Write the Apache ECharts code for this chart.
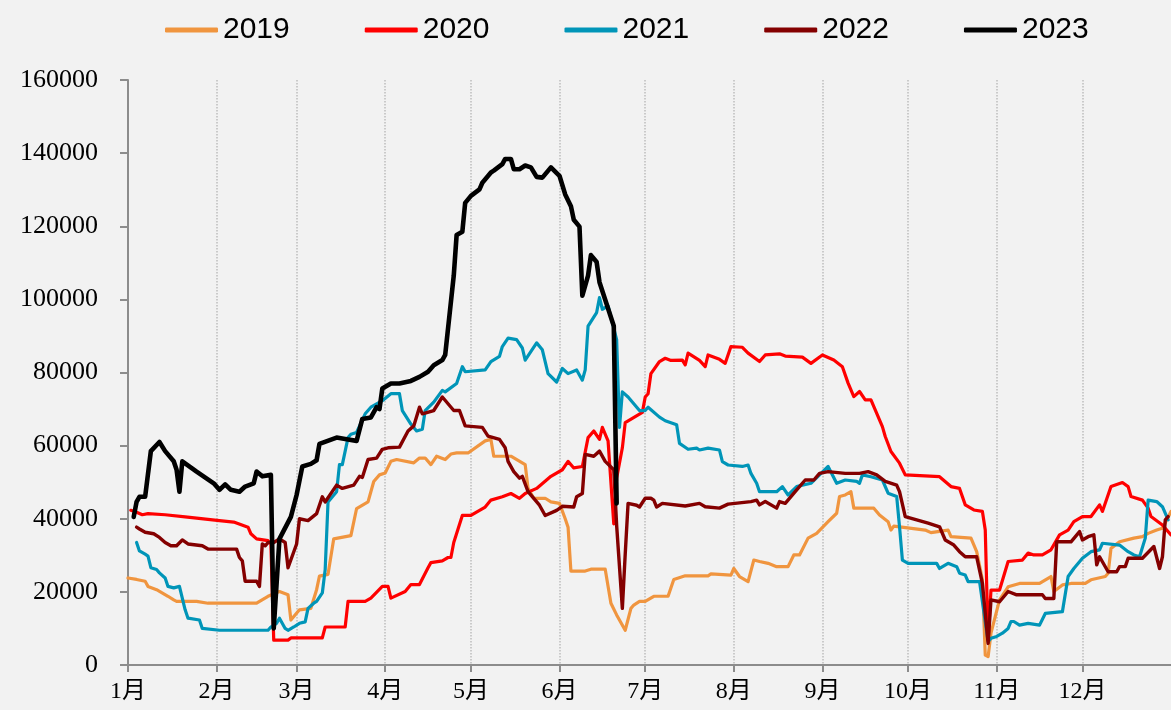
<!DOCTYPE html>
<html>
<head>
<meta charset="utf-8">
<script src="https://cdn.jsdelivr.net/npm/echarts@6/dist/echarts.min.js"></script>
<style>
  html, body { margin: 0; padding: 0; background: #f2f2f2; }
  #main { width: 1171px; height: 710px; }
</style>
</head>
<body>
<div id="main"></div>
<script>
// x = day of year (0 = 1月1日), y = value
var monthStarts = [0, 31, 59, 90, 120, 151, 181, 212, 243, 273, 304, 334]
var monthLabels = ['1月', '2月', '3月', '4月', '5月', '6月', '7月', '8月', '9月', '10月', '11月', '12月']
var yTicks = [0, 20000, 40000, 60000, 80000, 100000, 120000, 140000, 160000]

var days2019 = [0,3,6,7,10,14,16,17,24,28,45,49,53,56,57,60,64,66,67,70,72,78,80,84,86,88,90,92,94,100,102,104,106,108,111,113,115,119,125,127,128,134,139,140,142,146,148,151,153,154,155,160,162,167,169,171,174,176,177,179,181,184,189,191,195,203,204,211,212,214,217,219,221,224,227,231,233,235,238,241,245,248,249,251,253,254,261,263,266,267,268,279,281,287,288,295,297,299,300,301,302,305,308,312,319,323,324,327,330,335,337,342,343,344,347,352,355,357,360,362,365]
var vals2019 = [23800,23400,22900,21500,20600,18800,17800,17400,17400,16900,16900,18800,20100,19200,12300,15100,15500,20600,24300,24800,34500,35400,42800,44600,50200,52000,52500,55700,56200,55300,56600,56600,54800,57100,56200,57700,58000,58000,61300,61700,57100,57100,54800,48300,45600,45600,44600,44200,40000,37700,25700,25700,26200,26200,16900,13700,9500,15500,16400,17400,17400,18800,18800,23400,24400,24400,24900,24600,26400,24200,22800,28700,28300,27800,26900,26900,30100,30100,34700,36000,39200,41500,46100,46500,47400,42900,42900,41000,39200,36900,38000,36900,36200,36900,35100,34700,31000,23300,2700,2300,8700,17800,21400,22300,22300,24200,20100,21900,22300,22300,23300,24200,25100,31900,33700,34700,35100,36000,36900,37400,42000]

var days2020 = [1,3,5,7,13,20,32,37,42,43,45,49,50,51,56,57,68,69,76,77,83,85,89,91,92,97,99,102,105,106,110,112,113,114,117,120,125,127,131,134,137,139,143,148,152,154,156,159,161,163,165,166,168,170,171,173,174,180,181,182,183,186,188,190,194,195,196,200,202,203,207,209,211,215,217,221,223,228,230,236,239,243,247,250,252,254,256,258,260,264,265,267,270,272,284,288,291,293,296,299,300,301,302,305,308,313,315,317,320,323,326,329,331,334,337,340,341,344,348,350,351,355,357,358,362,365]
var vals2020 = [42300,41800,41100,41400,41100,40500,39500,39100,37700,35900,34500,34000,33100,6800,6800,7400,7400,10400,10400,17400,17400,18300,21500,21500,18300,20100,22000,22000,26600,28000,28500,29400,29400,33500,40900,40900,43200,45100,46000,46900,45600,46900,48300,51600,53400,55700,53900,54300,62200,64000,61700,65000,61300,38600,51100,59400,66300,69100,73300,74200,79700,83000,83900,83300,83400,82100,85300,83300,81600,84800,83600,82500,87100,86900,85300,83000,84800,85100,84500,84200,82500,84800,83400,81600,77100,73400,74800,72500,72500,65200,62500,58400,55200,52000,51500,48800,48300,43800,42400,42000,36900,6800,20500,20500,28300,28700,30600,30100,30100,31500,35600,36900,39200,40600,40600,43800,42000,48800,49900,48800,46100,45100,42900,40600,38300,35600]

var days2021 = [3,4,6,7,8,10,11,13,14,16,18,20,21,25,26,32,49,50,52,53,55,56,58,60,62,63,65,66,68,69,70,73,74,75,77,78,80,83,85,89,92,95,96,99,101,103,104,107,110,111,115,117,118,125,127,130,131,133,136,138,139,143,145,147,150,152,154,157,159,160,161,164,165,166,168,171,172,173,175,179,181,182,186,188,192,193,196,199,200,203,207,208,210,215,217,218,220,221,227,229,231,234,236,239,242,245,248,251,255,256,257,260,264,266,269,270,271,273,283,284,287,290,291,293,294,298,301,302,304,306,308,309,310,312,315,319,321,327,329,331,334,337,340,341,347,350,352,354,356,357,360,362,364]
var vals2021 = [33500,31200,30300,29800,26600,26100,25200,23800,21500,21100,21500,15100,12800,12300,10000,9500,9500,10400,11400,12800,10000,9500,10400,11400,11800,15500,16900,17400,19700,26100,44600,47400,54800,54800,62200,63100,63600,68700,70500,72300,74200,74200,69600,65900,64000,64500,69600,71900,75100,74700,77000,81600,80200,80700,83000,84400,87100,89400,89000,86700,83400,88100,86200,79700,77400,81100,79700,80700,77900,80700,92700,96400,100500,97300,98200,89000,65000,74700,73300,69600,69600,70500,67800,66800,65700,60600,59000,59300,58800,59300,58800,55600,54700,54300,54700,52400,49700,47400,47400,48800,46500,48800,49200,49700,52000,54300,49700,50600,50200,49700,52000,51500,50600,47000,46100,37800,28700,27800,27800,26400,27800,26900,25100,24600,22800,22800,6400,7300,7800,8700,10000,11900,11900,10900,11400,10900,14100,14600,24200,26400,29200,31000,31500,33300,32800,31000,30100,29600,34700,45100,44700,43300,39700]

var days2022 = [3,4,6,9,11,13,15,17,19,21,26,28,38,39,40,41,45,46,47,48,49,51,53,55,56,59,60,63,66,68,69,73,75,79,81,82,84,87,89,91,95,98,100,102,103,107,110,114,116,118,124,126,130,132,133,135,137,138,140,144,146,150,152,156,157,159,160,163,165,167,170,171,173,174,175,178,179,181,183,184,185,187,195,200,202,207,210,218,220,221,223,227,228,230,234,237,240,242,245,251,256,259,262,265,269,270,272,280,284,286,289,291,293,297,299,301,302,305,308,311,320,321,324,325,330,333,334,336,338,339,340,343,346,347,349,350,355,359,361,362,363,364]
var vals2022 = [37700,37200,36300,35900,34900,33500,32600,32600,34200,33100,32600,31700,31700,29400,28500,22900,22900,21500,33100,32600,33500,33500,34500,33500,26600,33100,40000,39500,41400,46000,44600,49200,48300,49200,51600,51300,56200,56600,59000,59400,59600,64000,65400,70500,68700,69600,73300,69600,69600,65400,65000,62600,61700,59400,55700,52900,51100,51600,47400,43700,40900,42300,43400,43200,46000,46900,57600,57100,58500,55700,53400,38200,15500,30300,44200,43700,43200,45600,45600,45100,43200,44200,43500,44200,43300,42900,44000,44700,45100,43800,44700,42900,44700,44200,47900,50600,50600,52400,52900,52400,52400,52900,52000,50200,49200,47400,40600,38800,37800,34200,32800,31000,29600,29600,22300,5900,17800,17300,20100,19200,19200,18200,18200,33700,33700,36500,34200,35100,35600,27400,29600,25500,25500,26900,26900,29200,29200,32400,26400,29600,39700,40600]

var days2023 = [2,3,4,6,8,11,13,16,17,18,19,24,30,32,34,36,39,41,44,45,47,50,51,53,57,59,61,64,66,67,73,77,80,82,85,87,88,89,92,95,99,102,105,107,110,111,114,115,117,118,120,123,124,127,128,131,132,134,135,137,139,141,143,145,148,151,153,155,156,158,159,161,162,164,165,170,171]
var vals2023 = [40500,44600,46000,46000,58500,61000,58500,55700,53400,47400,55700,52900,49700,47900,49400,47900,47400,48800,49700,52900,51600,52000,10000,34500,40500,46500,54300,55000,56000,60500,62200,61700,61300,67300,67700,70500,70000,75600,77000,77000,77700,78800,80200,82000,83400,84800,106500,117600,118500,126400,128300,130100,131900,134700,135200,137000,138400,138400,135600,135600,136600,136100,133500,133300,136100,133800,128700,125500,121800,119900,101000,106500,112100,110200,104700,92700,44200]

function pairs (days, vals) {
  return days.map(function (d, i) { return [d, vals[i]] })
}

var seriesDefs = [
  { name: '2019', days: days2019, vals: vals2019, color: '#f0953f', width: 3.2 },
  { name: '2020', days: days2020, vals: vals2020, color: '#ff0000', width: 3.2 },
  { name: '2021', days: days2021, vals: vals2021, color: '#0095b8', width: 3.2 },
  { name: '2022', days: days2022, vals: vals2022, color: '#840000', width: 3.4 },
  { name: '2023', days: days2023, vals: vals2023, color: '#000000', width: 4.6 }
]

var myChart = echarts.init(document.getElementById('main'))
var option = {
  backgroundColor: '#f2f2f2',
  animation: false,
  legend: {
    left: 160,
    top: 10,
    itemGap: 75,
    itemWidth: 53,
    itemHeight: 5,
    icon: 'roundRect',
    textStyle: { fontFamily: 'Liberation Sans, Arial, sans-serif', fontSize: 30, color: '#000' },
    data: seriesDefs.map(function (s) { return s.name })
  },
  grid: { left: 128, top: 80, width: 1045, height: 585 },
  xAxis: {
    type: 'value',
    min: 0,
    max: 365,
    axisLine: { lineStyle: { color: '#8c8c8c', width: 2 } },
    axisTick: { customValues: monthStarts, length: 7, lineStyle: { color: '#8c8c8c', width: 2 } },
    axisLabel: {
      customValues: monthStarts,
      margin: 15,
      color: '#000',
      fontSize: 24,
      fontFamily: "'Liberation Serif', 'Times New Roman', 'Noto Sans CJK SC', serif",
      formatter: function (v) { return monthLabels[monthStarts.indexOf(v)] }
    },
    splitLine: { show: true, lineStyle: { type: 'dotted', color: '#bdbdbd', width: 1.5 } }
  },
  yAxis: {
    type: 'value',
    min: yTicks[0],
    max: yTicks[yTicks.length - 1],
    interval: 20000,
    axisLine: { show: true, lineStyle: { color: '#8c8c8c', width: 2 } },
    axisTick: { show: true, length: 8, lineStyle: { color: '#8c8c8c', width: 2 } },
    axisLabel: {
      margin: 30,
      color: '#000',
      fontSize: 26,
      fontFamily: "'Liberation Serif', 'Times New Roman', serif",
      formatter: function (v) { return String(v) }
    },
    splitLine: { show: false }
  },
  series: seriesDefs.map(function (s) {
    return {
      name: s.name,
      type: 'line',
      data: pairs(s.days, s.vals),
      symbol: 'none',
      color: s.color,
      lineStyle: { color: s.color, width: s.width, cap: 'round', join: 'round' }
    }
  })
}
myChart.setOption(option)
</script>
</body>
</html>
